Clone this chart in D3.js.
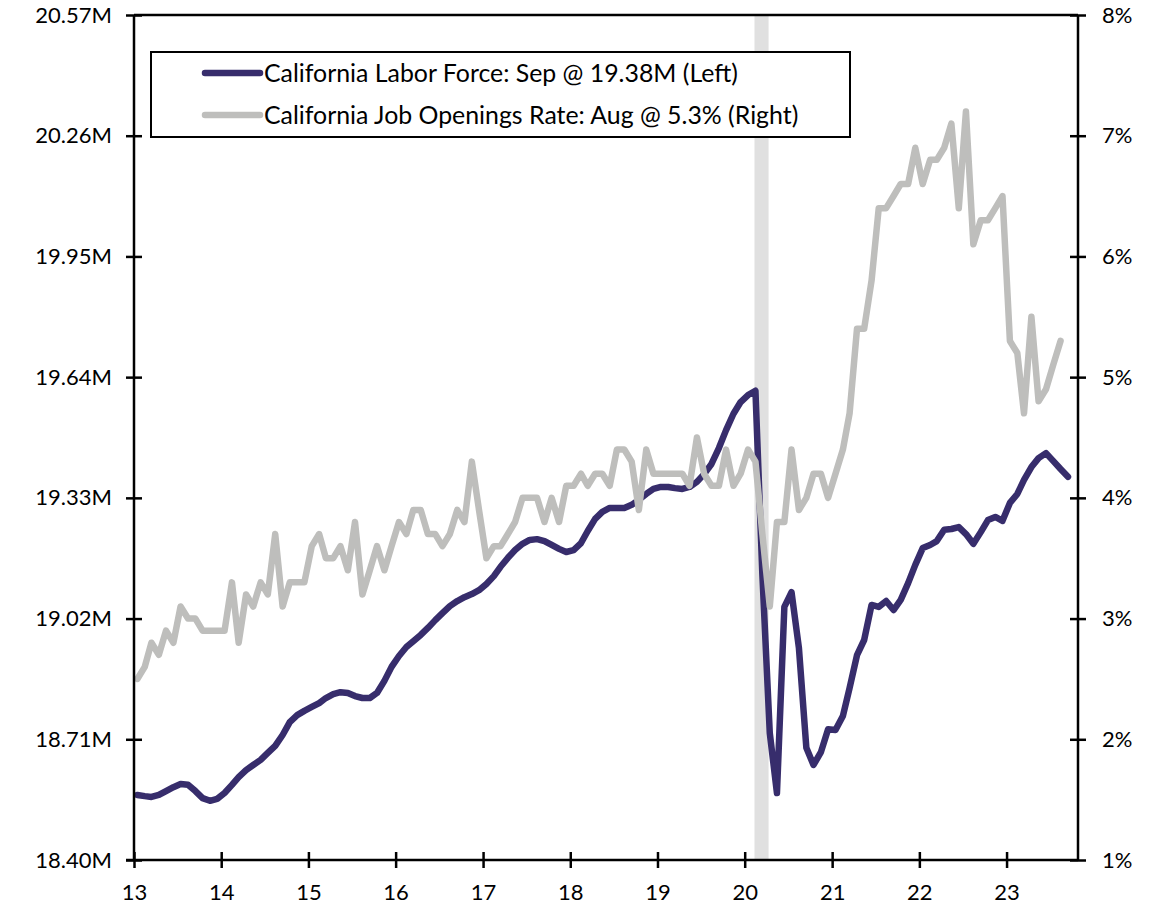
<!DOCTYPE html>
<html>
<head>
<meta charset="utf-8">
<script src="https://cdn.jsdelivr.net/npm/d3@7"></script>
<style>
  html, body { margin: 0; padding: 0; background: #ffffff; }
  svg { display: block; }
  text { font-family: Lato, "Open Sans", "Liberation Sans", sans-serif; fill: #000; }
</style>
</head>
<body>
<svg id="chart" width="1165" height="907"></svg>
<script>
// California labor force, millions, monthly Jan 2013 – Sep 2023
const laborForce = [
  18.567, 18.564, 18.562, 18.567, 18.577, 18.587, 18.595, 18.593, 18.577, 18.559, 18.552, 18.557,
  18.572, 18.593, 18.613, 18.631, 18.644, 18.657, 18.675, 18.693, 18.721, 18.754, 18.772, 18.783,
  18.793, 18.803, 18.816, 18.826, 18.831, 18.829, 18.821, 18.816, 18.816, 18.829, 18.860, 18.896,
  18.924, 18.947, 18.962, 18.978, 18.996, 19.016, 19.034, 19.052, 19.065, 19.075, 19.083, 19.093,
  19.109, 19.129, 19.153, 19.176, 19.196, 19.212, 19.222, 19.224, 19.219, 19.209, 19.199, 19.191,
  19.196, 19.214, 19.245, 19.276, 19.294, 19.304, 19.304, 19.304, 19.312, 19.325, 19.340, 19.353,
  19.358, 19.358, 19.355, 19.353, 19.358, 19.371, 19.391, 19.417, 19.458, 19.504, 19.546, 19.576,
  19.594, 19.605, 19.132, 18.726, 18.572, 19.050, 19.088, 18.944, 18.688, 18.644, 18.677, 18.736,
  18.734, 18.770, 18.842, 18.926, 18.965, 19.055, 19.050, 19.065, 19.042, 19.068, 19.111, 19.158,
  19.201, 19.209, 19.219, 19.248, 19.250, 19.255, 19.237, 19.212, 19.242, 19.273, 19.281, 19.271,
  19.317, 19.340, 19.376, 19.409, 19.432, 19.445, 19.425, 19.404, 19.384
];

// California job openings rate, %, monthly Jan 2013 – Aug 2023
const jobOpeningsRate = [
  2.5, 2.6, 2.8, 2.7, 2.9, 2.8, 3.1, 3.0, 3.0, 2.9, 2.9, 2.9,
  2.9, 3.3, 2.8, 3.2, 3.1, 3.3, 3.2, 3.7, 3.1, 3.3, 3.3, 3.3,
  3.6, 3.7, 3.5, 3.5, 3.6, 3.4, 3.8, 3.2, 3.4, 3.6, 3.4, 3.6,
  3.8, 3.7, 3.9, 3.9, 3.7, 3.7, 3.6, 3.7, 3.9, 3.8, 4.3, 3.9,
  3.5, 3.6, 3.6, 3.7, 3.8, 4.0, 4.0, 4.0, 3.8, 4.0, 3.8, 4.1,
  4.1, 4.2, 4.1, 4.2, 4.2, 4.1, 4.4, 4.4, 4.3, 3.9, 4.4, 4.2,
  4.2, 4.2, 4.2, 4.2, 4.1, 4.5, 4.2, 4.1, 4.1, 4.4, 4.1, 4.2,
  4.4, 4.3, 3.7, 3.1, 3.8, 3.8, 4.4, 3.9, 4.0, 4.2, 4.2, 4.0,
  4.2, 4.4, 4.7, 5.4, 5.4, 5.8, 6.4, 6.4, 6.5, 6.6, 6.6, 6.9,
  6.6, 6.8, 6.8, 6.9, 7.1, 6.4, 7.2, 6.1, 6.3, 6.3, 6.4, 6.5,
  5.3, 5.2, 4.7, 5.5, 4.8, 4.9, 5.1, 5.3
];

const leftTicks = [18.40, 18.71, 19.02, 19.33, 19.64, 19.95, 20.26, 20.57];
const rightTicks = [1, 2, 3, 4, 5, 6, 7, 8];
const yearTicks = [2013, 2014, 2015, 2016, 2017, 2018, 2019, 2020, 2021, 2022, 2023];
const recessionSpan = ["2020-02-11", "2020-04-10"];
const legendLabels = [
  "California Labor Force: Sep @ 19.38M (Left)",
  "California Job Openings Rate: Aug @ 5.3% (Right)"
];

const COLOR_LF = "#372d6c";
const COLOR_JO = "#bebebc";
const COLOR_SHADE = "#e0e0e0";

const svg = d3.select("#chart");
const plot = { left: 134, right: 1078, top: 15, bottom: 860 };

// monthly observations plotted mid-month
const monthDate = i => new Date(2013, i, 15);

const x = d3.scaleTime()
  .domain([new Date(2013, 0, 1), new Date(2023, 9, 27)])
  .range([plot.left, plot.right]);
const yLeft = d3.scaleLinear().domain([18.40, 20.57]).range([plot.bottom, plot.top]);
const yRight = d3.scaleLinear().domain([1, 8]).range([plot.bottom, plot.top]);

// recession shading
const parse = d3.timeParse("%Y-%m-%d");
svg.append("rect")
  .attr("x", x(parse(recessionSpan[0])))
  .attr("y", plot.top)
  .attr("width", x(parse(recessionSpan[1])) - x(parse(recessionSpan[0])))
  .attr("height", plot.bottom - plot.top)
  .attr("fill", COLOR_SHADE);

// series lines
const lfLine = d3.line()
  .x((d, i) => x(monthDate(i)))
  .y(d => yLeft(d));
const joLine = d3.line()
  .x((d, i) => x(monthDate(i)))
  .y(d => yRight(d));

svg.append("path")
  .datum(laborForce)
  .attr("d", lfLine)
  .attr("fill", "none")
  .attr("stroke", COLOR_LF)
  .attr("stroke-width", 6.5)
  .attr("stroke-linejoin", "round")
  .attr("stroke-linecap", "round");

svg.append("path")
  .datum(jobOpeningsRate)
  .attr("d", joLine)
  .attr("fill", "none")
  .attr("stroke", COLOR_JO)
  .attr("stroke-width", 6.5)
  .attr("stroke-linejoin", "round")
  .attr("stroke-linecap", "round");

// axes
const axisStroke = 2.5;
const tickHalf = 8;
const fontSize = 22;

const leftAxis = d3.axisLeft(yLeft)
  .tickValues(leftTicks)
  .tickSizeInner(tickHalf)
  .tickSizeOuter(0)
  .tickPadding(14)
  .tickFormat(d => d3.format(".2f")(d) + "M");

const gL = svg.append("g").attr("transform", `translate(${plot.left},0)`).call(leftAxis);

const rightAxis = d3.axisRight(yRight)
  .tickValues(rightTicks)
  .tickSizeInner(tickHalf)
  .tickSizeOuter(0)
  .tickPadding(16)
  .tickFormat(d => d + "%");

const gR = svg.append("g").attr("transform", `translate(${plot.right},0)`).call(rightAxis);

const bottomAxis = d3.axisBottom(x)
  .tickValues(yearTicks.map(yv => new Date(yv, 0, 1)))
  .tickSizeInner(tickHalf)
  .tickSizeOuter(0)
  .tickPadding(22)
  .tickFormat(d3.timeFormat("%y"));

const gB = svg.append("g").attr("transform", `translate(0,${plot.bottom})`).call(bottomAxis);

[gL, gR, gB].forEach(g => {
  g.select(".domain").remove();
  g.selectAll(".tick line").attr("stroke", "#000").attr("stroke-width", axisStroke);
  g.selectAll(".tick text")
    .attr("fill", "#000")
    .style("font-family", "Lato, 'Open Sans', sans-serif")
    .style("font-size", fontSize + "px");
});

// ticks cross the axis lines
gL.selectAll(".tick line").attr("x1", tickHalf).attr("x2", -tickHalf);
gR.selectAll(".tick line").attr("x1", -tickHalf).attr("x2", tickHalf);
gB.selectAll(".tick line").attr("y1", -tickHalf).attr("y2", tickHalf);
gL.selectAll(".tick text").attr("x", -22);
gR.selectAll(".tick text").attr("x", 24);
gB.selectAll(".tick text").attr("y", 24);

// frame: left, right, bottom and top lines
const frame = svg.append("g").attr("stroke", "#000").attr("stroke-width", axisStroke).attr("fill", "none");
frame.append("line").attr("x1", plot.left).attr("x2", plot.left).attr("y1", plot.top).attr("y2", plot.bottom);
frame.append("line").attr("x1", plot.right).attr("x2", plot.right).attr("y1", plot.top).attr("y2", plot.bottom);
frame.append("line").attr("x1", plot.left - tickHalf).attr("x2", plot.right).attr("y1", plot.bottom).attr("y2", plot.bottom);
frame.append("line").attr("x1", plot.left).attr("x2", plot.right).attr("y1", plot.top).attr("y2", plot.top);

// legend
const legend = svg.append("g");
legend.append("rect")
  .attr("x", 151).attr("y", 52)
  .attr("width", 699).attr("height", 85)
  .attr("fill", "#fff")
  .attr("stroke", "#000")
  .attr("stroke-width", 2);

const legendRows = [
  { label: legendLabels[0], color: COLOR_LF, y: 73 },
  { label: legendLabels[1], color: COLOR_JO, y: 115 }
];

legendRows.forEach(r => {
  legend.append("line")
    .attr("x1", 205).attr("x2", 260)
    .attr("y1", r.y).attr("y2", r.y)
    .attr("stroke", r.color)
    .attr("stroke-width", 6.5)
    .attr("stroke-linecap", "round");
});

const legendTexts = legend.selectAll("text.leg")
  .data(legendRows)
  .join("text")
  .attr("class", "leg")
  .attr("x", 264)
  .attr("y", d => d.y)
  .attr("dy", "0.36em")
  .style("font-size", "21px")
  .text(d => d.label);

// size the legend font so the first entry spans its row
const targetWidth = 474;
const measured = legendTexts.nodes()[0].getComputedTextLength();
if (measured > 0) {
  const fs = 21 * targetWidth / measured;
  legendTexts.style("font-size", fs.toFixed(2) + "px");
}
</script>
</body>
</html>
